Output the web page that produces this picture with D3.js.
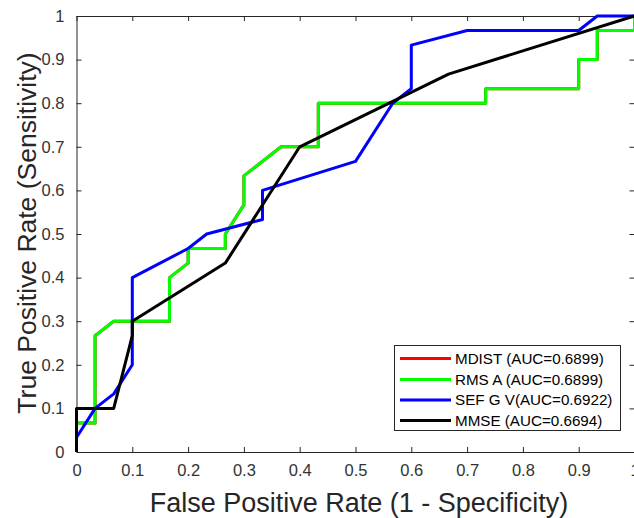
<!DOCTYPE html>
<html>
<head>
<meta charset="utf-8">
<script src="https://cdn.jsdelivr.net/npm/d3@7"></script>
<style>
  html, body { margin: 0; padding: 0; background: #fff; }
  svg { display: block; font-family: "Liberation Sans", Arial, Helvetica, sans-serif; }
</style>
</head>
<body>
<svg id="chart" width="634" height="518"></svg>
<script>
// ---- Data ----
const seriesNames = ["MDIST (AUC=0.6899)", "RMS A (AUC=0.6899)", "SEF G V(AUC=0.6922)", "MMSE (AUC=0.6694)"];
const seriesColors = ["#ff0000", "#00ff00", "#0000ff", "#000000"];

const fprMDIST = [0, 0, 0.0333, 0.0333, 0.0667, 0.1667, 0.1667, 0.2, 0.2, 0.2667, 0.2667, 0.3, 0.3, 0.3667, 0.4333, 0.4333, 0.7333, 0.7333, 0.9, 0.9, 0.9333, 0.9333, 1, 1];
const tprMDIST = [0, 0.0667, 0.0667, 0.2667, 0.3, 0.3, 0.4, 0.4333, 0.4667, 0.4667, 0.5, 0.5667, 0.6333, 0.7, 0.7, 0.8, 0.8, 0.8333, 0.8333, 0.9, 0.9, 0.9667, 0.9667, 1];

const fprRMSA = [0, 0, 0.0333, 0.0333, 0.0667, 0.1667, 0.1667, 0.2, 0.2, 0.2667, 0.2667, 0.3, 0.3, 0.3667, 0.4333, 0.4333, 0.7333, 0.7333, 0.9, 0.9, 0.9333, 0.9333, 1, 1];
const tprRMSA = [0, 0.0667, 0.0667, 0.2667, 0.3, 0.3, 0.4, 0.4333, 0.4667, 0.4667, 0.5, 0.5667, 0.6333, 0.7, 0.7, 0.8, 0.8, 0.8333, 0.8333, 0.9, 0.9, 0.9667, 0.9667, 1];

const fprSEF = [0, 0, 0.0333, 0.0667, 0.1, 0.1, 0.2, 0.2333, 0.3333, 0.3333, 0.5, 0.5667, 0.6, 0.6, 0.7, 0.9, 0.9333, 1];
const tprSEF = [0, 0.0333, 0.1, 0.1333, 0.2, 0.4, 0.4667, 0.5, 0.5333, 0.6, 0.6667, 0.8, 0.8333, 0.9333, 0.9667, 0.9667, 1, 1];

const fprMMSE = [0, 0, 0.0667, 0.1, 0.1, 0.2667, 0.4, 0.6667, 1];
const tprMMSE = [0, 0.1, 0.1, 0.2667, 0.3, 0.4333, 0.7, 0.8667, 1];

const tickValues = [0, 0.1, 0.2, 0.3, 0.4, 0.5, 0.6, 0.7, 0.8, 0.9, 1];
const tickLabels = ["0", "0.1", "0.2", "0.3", "0.4", "0.5", "0.6", "0.7", "0.8", "0.9", "1"];
const xLabel = "False Positive Rate (1 - Specificity)";
const yLabel = "True Positive Rate (Sensitivity)";

// ---- Layout ----
const svg = d3.select("#chart");
const mLeft = 76.5, mRight = 634.5, mTop = 16, mBottom = 452;
const axisColor = "#262626";
const x = d3.scaleLinear().domain([0, 1]).range([mLeft, mRight]);
const y = d3.scaleLinear().domain([0, 1]).range([mBottom, mTop]);

svg.append("rect").attr("width", 634).attr("height", 518).attr("fill", "#fff");

const fmt = d => tickLabels[tickValues.indexOf(d)];

// Axes (ticks inward, box on)
const gx = svg.append("g").attr("transform", `translate(0,${mBottom})`)
  .call(d3.axisBottom(x).tickValues(tickValues).tickFormat(fmt).tickSizeInner(-5).tickSizeOuter(0).tickPadding(12));
const gxTop = svg.append("g").attr("transform", `translate(0,${mTop})`)
  .call(d3.axisTop(x).tickValues(tickValues).tickFormat("").tickSizeInner(-5).tickSizeOuter(0));
const gy = svg.append("g").attr("transform", `translate(${mLeft},0)`)
  .call(d3.axisLeft(y).tickValues(tickValues).tickFormat(fmt).tickSizeInner(-5).tickSizeOuter(0).tickPadding(12));
const gyRight = svg.append("g").attr("transform", `translate(${mRight},0)`)
  .call(d3.axisRight(y).tickValues(tickValues).tickFormat("").tickSizeInner(-5).tickSizeOuter(0));

[gx, gxTop, gy, gyRight].forEach(g => {
  g.selectAll("path.domain").attr("stroke", axisColor).attr("stroke-width", 1);
  g.selectAll(".tick line").attr("stroke", axisColor).attr("stroke-width", 1);
  g.selectAll(".tick text").attr("fill", "#333").attr("font-size", 16.5)
    .attr("font-family", "'Liberation Sans', Arial, Helvetica, sans-serif");
});

// Curves
const seriesData = [
  [fprMDIST, tprMDIST],
  [fprRMSA, tprRMSA],
  [fprSEF, tprSEF],
  [fprMMSE, tprMMSE]
];
const line = d3.line().x(d => x(d[0])).y(d => y(d[1]));
const plot = svg.append("g");
seriesData.forEach((s, i) => {
  const pts = s[0].map((v, k) => [v, s[1][k]]);
  plot.append("path").datum(pts)
    .attr("d", line)
    .attr("fill", "none")
    .attr("stroke", seriesColors[i])
    .attr("stroke-width", 3)
    .attr("stroke-linejoin", "round")
    .attr("stroke-linecap", "butt");
});

// Axis labels
svg.append("text")
  .attr("x", 359).attr("y", 512)
  .attr("text-anchor", "middle")
  .attr("font-size", 27)
  .attr("fill", "#262626")
  .text(xLabel);

svg.append("text")
  .attr("transform", "translate(36,233) rotate(-90)")
  .attr("text-anchor", "middle")
  .attr("font-size", 26.5)
  .attr("fill", "#262626")
  .text(yLabel);

// Legend
const lg = svg.append("g");
lg.append("rect")
  .attr("x", 394.5).attr("y", 345.5).attr("width", 226).attr("height", 85)
  .attr("fill", "#fff").attr("stroke", axisColor).attr("stroke-width", 1);
const rowY = [358.5, 379.5, 400, 420.5];
seriesNames.forEach((name, i) => {
  lg.append("line")
    .attr("x1", 400).attr("x2", 451)
    .attr("y1", rowY[i]).attr("y2", rowY[i])
    .attr("stroke", seriesColors[i]).attr("stroke-width", 3);
  lg.append("text")
    .attr("x", 455).attr("y", rowY[i])
    .attr("dy", "0.35em")
    .attr("font-size", 15.2)
    .attr("fill", "#000")
    .text(name);
});
</script>
</body>
</html>
